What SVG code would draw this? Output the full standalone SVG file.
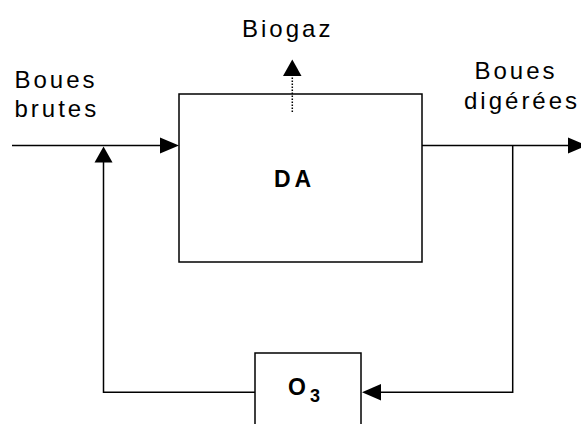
<svg xmlns="http://www.w3.org/2000/svg" width="581" height="424" viewBox="0 0 581 424">
<style>
.box{fill:#fff;stroke:#000;stroke-width:1.5}
.ln{fill:none;stroke:#000;stroke-width:1.5}
.dot{fill:none;stroke:#000;stroke-width:1.5;stroke-dasharray:1.5 1.5}
.ah{fill:#000}
.t{font-family:"Liberation Sans",Arial,sans-serif;font-size:24px;letter-spacing:3px;fill:#000}
.b{font-family:"Liberation Sans",Arial,sans-serif;font-size:23px;font-weight:bold;fill:#000}
</style>
<rect width="581" height="424" fill="#fff"/>
<g id="DA">
<rect class="box" x="179" y="94" width="243" height="168"/>
<text class="b" x="274" y="187" letter-spacing="4">DA</text>
</g>
<g id="O3">
<rect class="box" x="255" y="353" width="106" height="90"/>
<text class="b" x="288" y="395">O<tspan font-size="18" dx="4" dy="7">3</tspan></text>
</g>
<g id="labels">
<text class="t" x="242" y="37">Biogaz</text>
<text class="t" x="14.5" y="88">Boues</text>
<text class="t" x="14.5" y="117">brutes</text>
<text class="t" x="474.5" y="79">Boues</text>
<text class="t" x="464" y="109">digérées</text>
</g>
<g id="connectors">
<line class="ln" x1="12" y1="145.5" x2="161" y2="145.5"/>
<polygon class="ah" points="160,137.5 179,145.5 160,153.5"/>
<line class="ln" x1="422" y1="145.5" x2="570" y2="145.5"/>
<polygon class="ah" points="568,137.5 587,145.5 568,153.5"/>
<polyline class="ln" points="512.7,145.5 512.7,392.3 380,392.3"/>
<polygon class="ah" points="381,384 362,392.3 381,400.5"/>
<polyline class="ln" points="255,392.3 103.5,392.3 103.5,161"/>
<polygon class="ah" points="94.5,162.5 103.5,146.5 112.5,162.5"/>
<line class="dot" x1="292.3" y1="112" x2="292.3" y2="75"/>
<polygon class="ah" points="283,76 292.3,59.5 301.5,76"/>
</g>
</svg>
